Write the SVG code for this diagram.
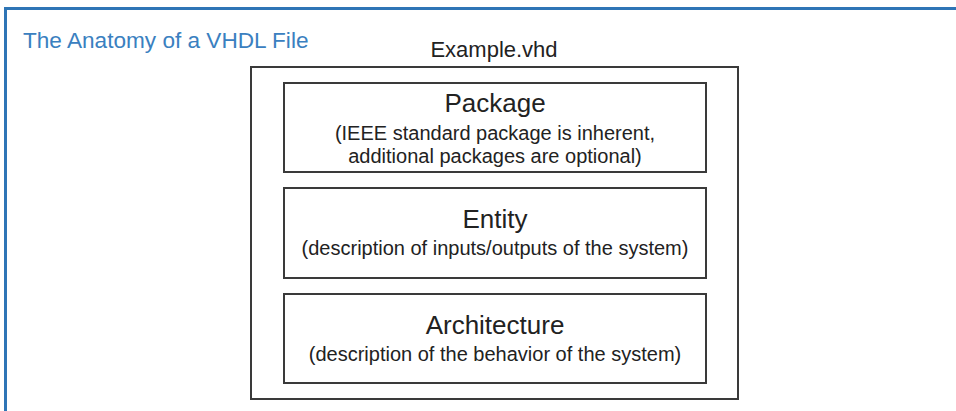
<svg xmlns="http://www.w3.org/2000/svg" width="956" height="411" viewBox="0 0 956 411">
<style>
.box{fill:#fff;stroke:#3a3a3a;stroke-width:2}
.t{font-family:"Liberation Sans",Arial,sans-serif;fill:#222;text-anchor:middle}
.h{font-size:26px}
.s{font-size:20px}
</style>
<rect width="956" height="411" fill="#fff"/>
<path d="M5.5 411 V8.5 H956" fill="none" stroke="#2e75b6" stroke-width="3"/>
<text x="23" y="48" font-family="'Liberation Sans',Arial,sans-serif" font-size="22.6" fill="#3a80c0">The Anatomy of a VHDL File</text>
<g id="file">
<text class="t" x="494" y="57" font-size="22">Example.vhd</text>
<rect class="box" x="251" y="67" width="487" height="332"/>
</g>
<g id="package">
<rect class="box" x="284" y="83" width="422" height="89"/>
<text class="t h" x="495" y="112">Package</text>
<text class="t s" x="495" y="140">(IEEE standard package is inherent,</text>
<text class="t s" x="495" y="163">additional packages are optional)</text>
</g>
<g id="entity">
<rect class="box" x="284" y="188" width="422" height="90"/>
<text class="t h" x="495" y="228">Entity</text>
<text class="t s" x="495" y="255">(description of inputs/outputs of the system)</text>
</g>
<g id="architecture">
<rect class="box" x="284" y="294" width="422" height="89"/>
<text class="t h" x="495" y="334">Architecture</text>
<text class="t s" x="495" y="361">(description of the behavior of the system)</text>
</g>
<g id="connectors"></g>
</svg>
